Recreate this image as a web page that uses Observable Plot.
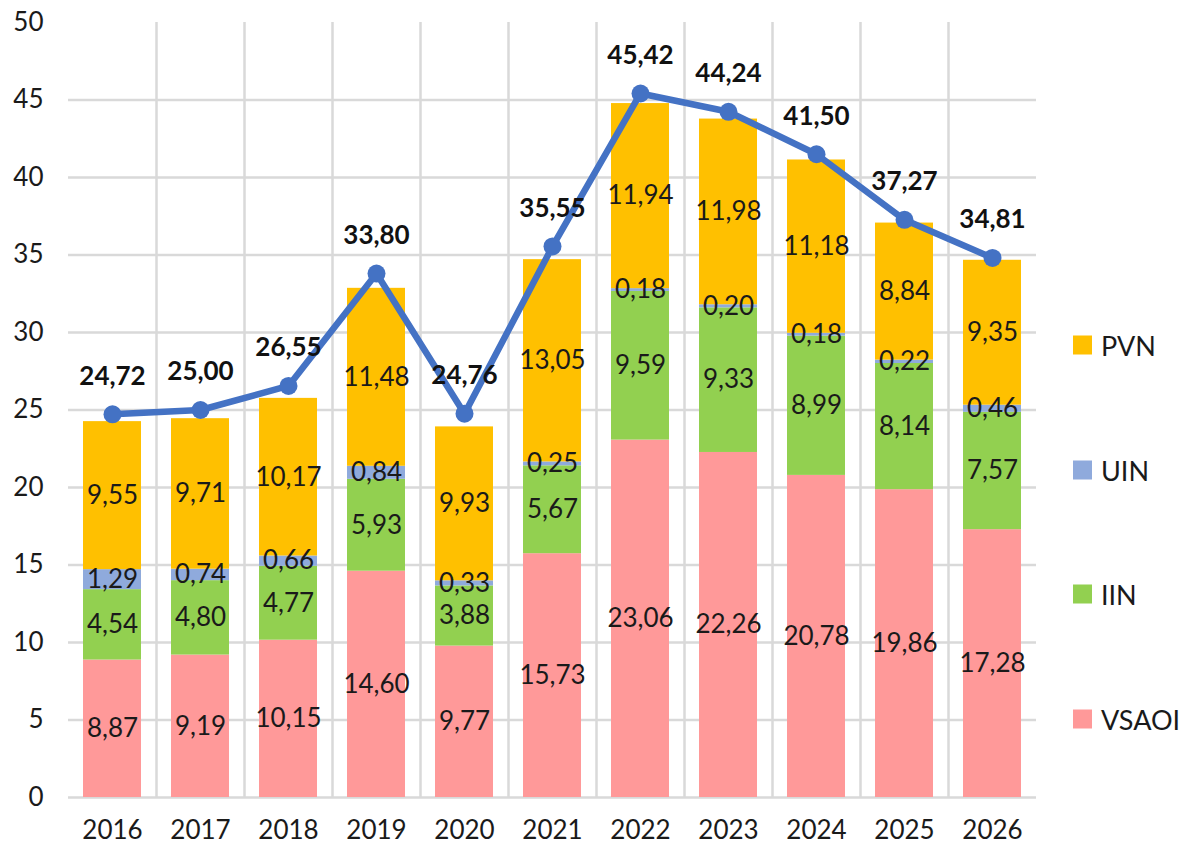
<!DOCTYPE html>
<html><head><meta charset="utf-8">
<script src="https://cdn.jsdelivr.net/npm/d3@7"></script>
<script src="https://cdn.jsdelivr.net/npm/@observablehq/plot@0.6"></script>
<style>
body{margin:0;background:#fff;font-family:Lato,sans-serif;}
#wrap{position:relative;width:1194px;height:845px;}
#legend{position:absolute;left:1073px;top:0;}
.item{position:absolute;left:0;display:flex;align-items:center;white-space:nowrap;font-size:27px;color:#1a1a1a;transform:translateY(-50%);}
.sw{width:19px;height:19px;margin-right:9px;}
</style></head><body><div id="wrap"><div id="chart"></div><div id="legend"></div></div>
<script>
const years = ["2016","2017","2018","2019","2020","2021","2022","2023","2024","2025","2026"];
const vsaoi = [8.87, 9.19, 10.15, 14.60, 9.77, 15.73, 23.06, 22.26, 20.78, 19.86, 17.28];
const iin   = [4.54, 4.80, 4.77, 5.93, 3.88, 5.67, 9.59, 9.33, 8.99, 8.14, 7.57];
const uin   = [1.29, 0.74, 0.66, 0.84, 0.33, 0.25, 0.18, 0.20, 0.18, 0.22, 0.46];
const pvn   = [9.55, 9.71, 10.17, 11.48, 9.93, 13.05, 11.94, 11.98, 11.18, 8.84, 9.35];
const totals = [24.72, 25.00, 26.55, 33.80, 24.76, 35.55, 45.42, 44.24, 41.50, 37.27, 34.81];
const series = ["VSAOI","IIN","UIN","PVN"];
const colors = ["#FF9999","#92D050","#8FAADC","#FFC000"];
const legendOrder = ["PVN","UIN","IIN","VSAOI"];
const yTicks = [0,5,10,15,20,25,30,35,40,45,50];

const seriesValues = [vsaoi, iin, uin, pvn];
const rows = [];
years.forEach((yr, i) => series.forEach((s, j) => rows.push({year: yr, series: s, value: seriesValues[j][i]})));
const totalRows = years.map((yr, i) => ({year: yr, total: totals[i]}));
const fmt = v => v.toFixed(2).replace(".", ",");

const chart = Plot.plot({
  width: 1194, height: 845,
  marginLeft: 68, marginRight: 158, marginTop: 22, marginBottom: 48,
  style: {fontFamily: "Lato, sans-serif", background: "white", color: "#1a1a1a"},
  x: {domain: years, paddingInner: 0.34, paddingOuter: 0.17, label: null},
  y: {domain: [0, 50], label: null},
  color: {domain: series, range: colors},
  marks: [
    Plot.ruleY(yTicks.slice(0, -1), {stroke: "#d9d9d9", strokeWidth: 2.5}),
    Plot.ruleX(years.slice(1), {x: d => d, dx: -44, y1: 0, y2: 50, stroke: "#d9d9d9", strokeWidth: 2.5}),
    Plot.barY(rows, {x: "year", y: "value", fill: "series"}),
    Plot.text(rows, Plot.stackY({x: "year", y: "value", z: "series", text: d => fmt(d.value), fontSize: 26, fill: "#1a1a1a"})),
    Plot.line(totalRows, {x: "year", y: "total", stroke: "#4472C4", strokeWidth: 6.5}),
    Plot.dot(totalRows, {x: "year", y: "total", r: 9, fill: "#4472C4"}),
    Plot.text(totalRows, {x: "year", y: "total", text: d => fmt(d.total), dy: -38, fontWeight: "bold", fontSize: 26, fill: "#111"}),
    Plot.axisY({ticks: yTicks, tickSize: 0, tickPadding: 25, fontSize: 26, label: null, tickFormat: d => String(d)}),
    Plot.axisX({tickSize: 0, tickPadding: 23, fontSize: 26, label: null})
  ]
});
document.getElementById("chart").appendChild(chart);

const legend = document.getElementById("legend");
legendOrder.forEach((s, i) => {
  const it = document.createElement("div");
  it.className = "item";
  it.style.top = (345 + i * 124.5) + "px";
  const sw = document.createElement("span");
  sw.className = "sw";
  sw.style.background = colors[series.indexOf(s)];
  const tx = document.createElement("span");
  tx.textContent = s;
  it.appendChild(sw); it.appendChild(tx);
  legend.appendChild(it);
});
</script></body></html>
